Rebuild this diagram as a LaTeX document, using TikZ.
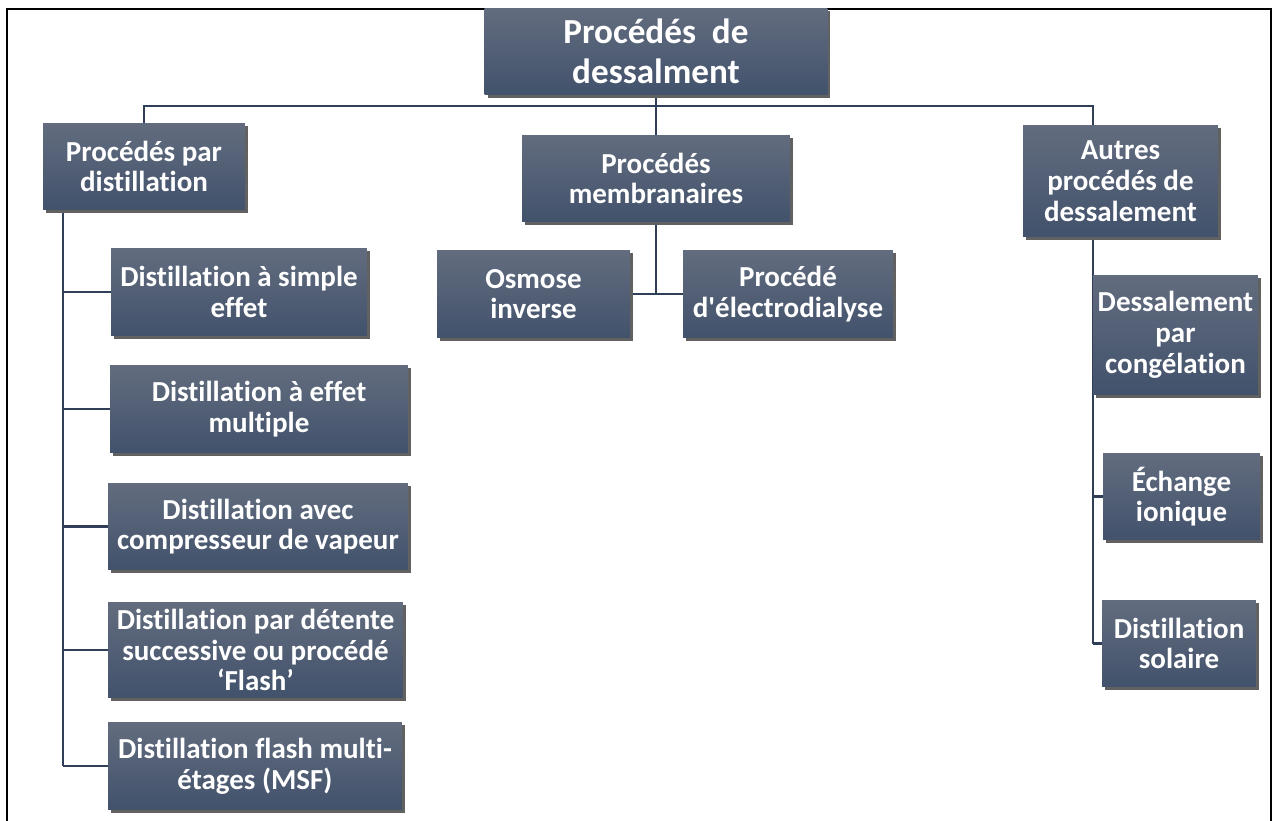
\documentclass[tikz,border=0pt]{standalone}
\usepackage{fontspec}
\setmainfont{Carlito}[Ligatures={NoCommon}]
\usepackage{tikz}
\usetikzlibrary{positioning, calc, backgrounds, shadows}
\definecolor{boxtop}{RGB}{98,108,126}
\definecolor{boxbot}{RGB}{66,82,108}
\definecolor{linkblue}{RGB}{48,62,88}
\begin{document}
\begin{tikzpicture}[x=0.02cm, y=-0.02cm,
  proc/.style={rectangle, top color=boxtop, bottom color=boxbot, draw=none,
               text=white, align=center, inner sep=2pt,
               font=\fontsize{16.5}{17.5}\selectfont\bfseries,
               drop shadow={shadow xshift=0.06cm, shadow yshift=-0.06cm, fill=black!62, opacity=1}},
  rootbox/.style={proc, font=\fontsize{20}{23}\selectfont\bfseries},
  link/.style={draw=linkblue, line width=1.15pt},
]
  \useasboundingbox (0,0) rectangle (1276,821);

  % Frame
  \draw[line width=1.4pt] (7,821) -- (7,9) -- (1271,9) -- (1271,821);

  % Root
  \node[rootbox, minimum width=6.86cm, minimum height=1.74cm] (root) at (656,51.5) {Procédés \ de\\dessalment};

  % Level 1
  \node[proc, minimum width=4.04cm, minimum height=1.74cm] (distill) at (144,166.5) {Procédés par\\distillation};
  \node[proc, minimum width=5.36cm, minimum height=1.74cm] (membr) at (656,178.5) {Procédés\\membranaires};
  \node[proc, minimum width=3.9cm, minimum height=2.24cm] (autres) at (1120.5,181) {Autres\\procédés de\\dessalement};

  % Distillation
  \node[proc, minimum width=5.12cm, minimum height=1.76cm] (d1) at (239,292) {Distillation à simple\\effet};
  \node[proc, minimum width=5.96cm, minimum height=1.76cm] (d2) at (259,409) {Distillation à effet\\multiple};
  \node[proc, minimum width=6.0cm, minimum height=1.74cm] (d3) at (258,526.5) {Distillation avec\\compresseur de vapeur};
  \node[proc, minimum width=5.9cm, minimum height=1.92cm] (d4) at (255.5,650) {Distillation par détente\\successive ou procédé\\‘Flash’};
  \node[proc, minimum width=5.88cm, minimum height=1.76cm] (d5) at (255,766) {Distillation flash multi-\\étages (MSF)};

  % Membranes
  \node[proc, minimum width=3.86cm, minimum height=1.76cm] (osm) at (533.5,294) {Osmose\\inverse};
  \node[proc, minimum width=4.2cm, minimum height=1.76cm] (elec) at (788,294) {Procédé\\d\textquotesingle électrodialyse};

  % Autres
  \node[proc, minimum width=3.3cm, minimum height=2.4cm] (cong) at (1175.5,335) {Dessalement\\par\\congélation};
  \node[proc, minimum width=3.14cm, minimum height=1.74cm] (ech) at (1181.5,496.5) {Échange\\ionique};
  \node[proc, minimum width=3.08cm, minimum height=1.74cm] (sol) at (1179,643.5) {Distillation\\solaire};

  % Connections
  \begin{scope}[on background layer]
    \coordinate (bus) at (656,106);
    \coordinate (lt) at ([xshift=0.4cm]distill.south west);
    \coordinate (rt) at (cong.north west);
    \draw[link] (root.south) -- (bus);
    \draw[link] (distill.north) |- (bus) -| (rt |- autres.north);
    \draw[link] (bus) -- (membr.north);
    \draw[link] (lt) -- (lt |- d5.west);
    \foreach \n in {d1,d2,d3,d4,d5}
      \draw[link] (lt |- \n.west) -- (\n.west);
    \draw[link] (membr.south) -- (membr.south |- osm.east);
    \draw[link] (osm.east) -- (elec.west);
    \draw[link] (rt |- autres.south) -- (rt |- sol.west);
    \draw[link] (rt |- ech.west) -- (ech.west);
    \draw[link] (rt |- sol.west) -- (sol.west);
  \end{scope}
\end{tikzpicture}
\end{document}
